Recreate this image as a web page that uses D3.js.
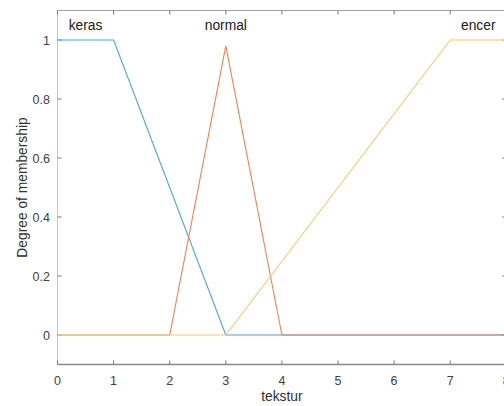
<!DOCTYPE html>
<html>
<head>
<meta charset="utf-8">
<script src="https://cdn.jsdelivr.net/npm/d3@7"></script>
<style>
  body { margin: 0; background: #fff; }
  text { font-family: "Liberation Sans", Arial, sans-serif; }
</style>
</head>
<body>
<div id="graph"></div>
<script>
// membership functions of "tekstur"
const xTicks = [0, 1, 2, 3, 4, 5, 6, 7, 8];
const yTicks = [0, 0.2, 0.4, 0.6, 0.8, 1];
const mfNames = ["keras", "normal", "encer"];
const kerasX = [0, 1, 3, 8];
const kerasY = [1, 1, 0, 0];
const normalX = [0, 2, 3, 4, 8];
const normalY = [0, 0, 0.98, 0, 0];
const encerX = [0, 3, 7, 8];
const encerY = [0, 0, 1, 1];
const labelX = [0.5, 3, 7.5];

const width = 504, height = 406;
const svg = d3.select("#graph").append("svg")
    .attr("width", width)
    .attr("height", height);

const x = d3.scaleLinear().domain([0, 8]).range([57.5, 506.3]);
const y = d3.scaleLinear().domain([-0.1, 1.1]).range([364.5, 10.5]);

const colors = ["#4fa3dd", "#e9825a", "#f3c970"];

// box
svg.append("line").attr("x1", x(0)).attr("x2", x(8)).attr("y1", y(1.1)).attr("y2", y(1.1))
    .attr("stroke", "#a0a0a0");
svg.append("line").attr("x1", x(0)).attr("x2", x(8)).attr("y1", y(-0.1)).attr("y2", y(-0.1))
    .attr("stroke", "#8a8a8a").attr("stroke-width", 1.3);
svg.append("line").attr("x1", x(0)).attr("x2", x(0)).attr("y1", y(-0.1)).attr("y2", y(1.1))
    .attr("stroke", "#c8c8c8");

// ticks, pointing inwards
xTicks.forEach(t => {
    svg.append("line").attr("x1", x(t)).attr("x2", x(t))
        .attr("y1", y(-0.1)).attr("y2", y(-0.1) - 4).attr("stroke", "#777");
    svg.append("line").attr("x1", x(t)).attr("x2", x(t))
        .attr("y1", y(1.1)).attr("y2", y(1.1) + 4).attr("stroke", "#777");
    svg.append("text").attr("x", x(t)).attr("y", 385)
        .attr("text-anchor", "middle").attr("font-size", 12.5).attr("fill", "#404040")
        .text(t);
});
yTicks.forEach(t => {
    svg.append("line").attr("x1", x(0)).attr("x2", x(0) + 4)
        .attr("y1", y(t)).attr("y2", y(t)).attr("stroke", "#777");
    svg.append("line").attr("x1", x(8)).attr("x2", x(8) - 4)
        .attr("y1", y(t)).attr("y2", y(t)).attr("stroke", "#777");
    svg.append("text").attr("x", 50).attr("y", y(t) + 4.5)
        .attr("text-anchor", "end").attr("font-size", 12.5).attr("fill", "#404040")
        .text(t);
});

// axis titles
svg.append("text").attr("x", x(4)).attr("y", 401)
    .attr("text-anchor", "middle").attr("font-size", 13.8).attr("fill", "#303030")
    .text("tekstur");
svg.append("text").attr("transform", `translate(26.5, ${y(0.5)}) rotate(-90)`)
    .attr("text-anchor", "middle").attr("font-size", 13.8).attr("fill", "#303030")
    .text("Degree of membership");

// curves
const line = d3.line().x(d => x(d[0])).y(d => y(d[1]));
const curves = [
    d3.zip(kerasX, kerasY),
    d3.zip(normalX, normalY),
    d3.zip(encerX, encerY)
];
curves.forEach((c, i) => {
    svg.append("path").datum(c)
        .attr("d", line)
        .attr("fill", "none")
        .attr("stroke", colors[i])
        .attr("stroke-width", 1.1);
});

// mf labels
mfNames.forEach((n, i) => {
    svg.append("text").attr("x", x(labelX[i])).attr("y", y(1.05) + 4.5)
        .attr("text-anchor", "middle").attr("font-size", 13.8).attr("fill", "#202020")
        .text(n);
});
</script>
</body>
</html>
